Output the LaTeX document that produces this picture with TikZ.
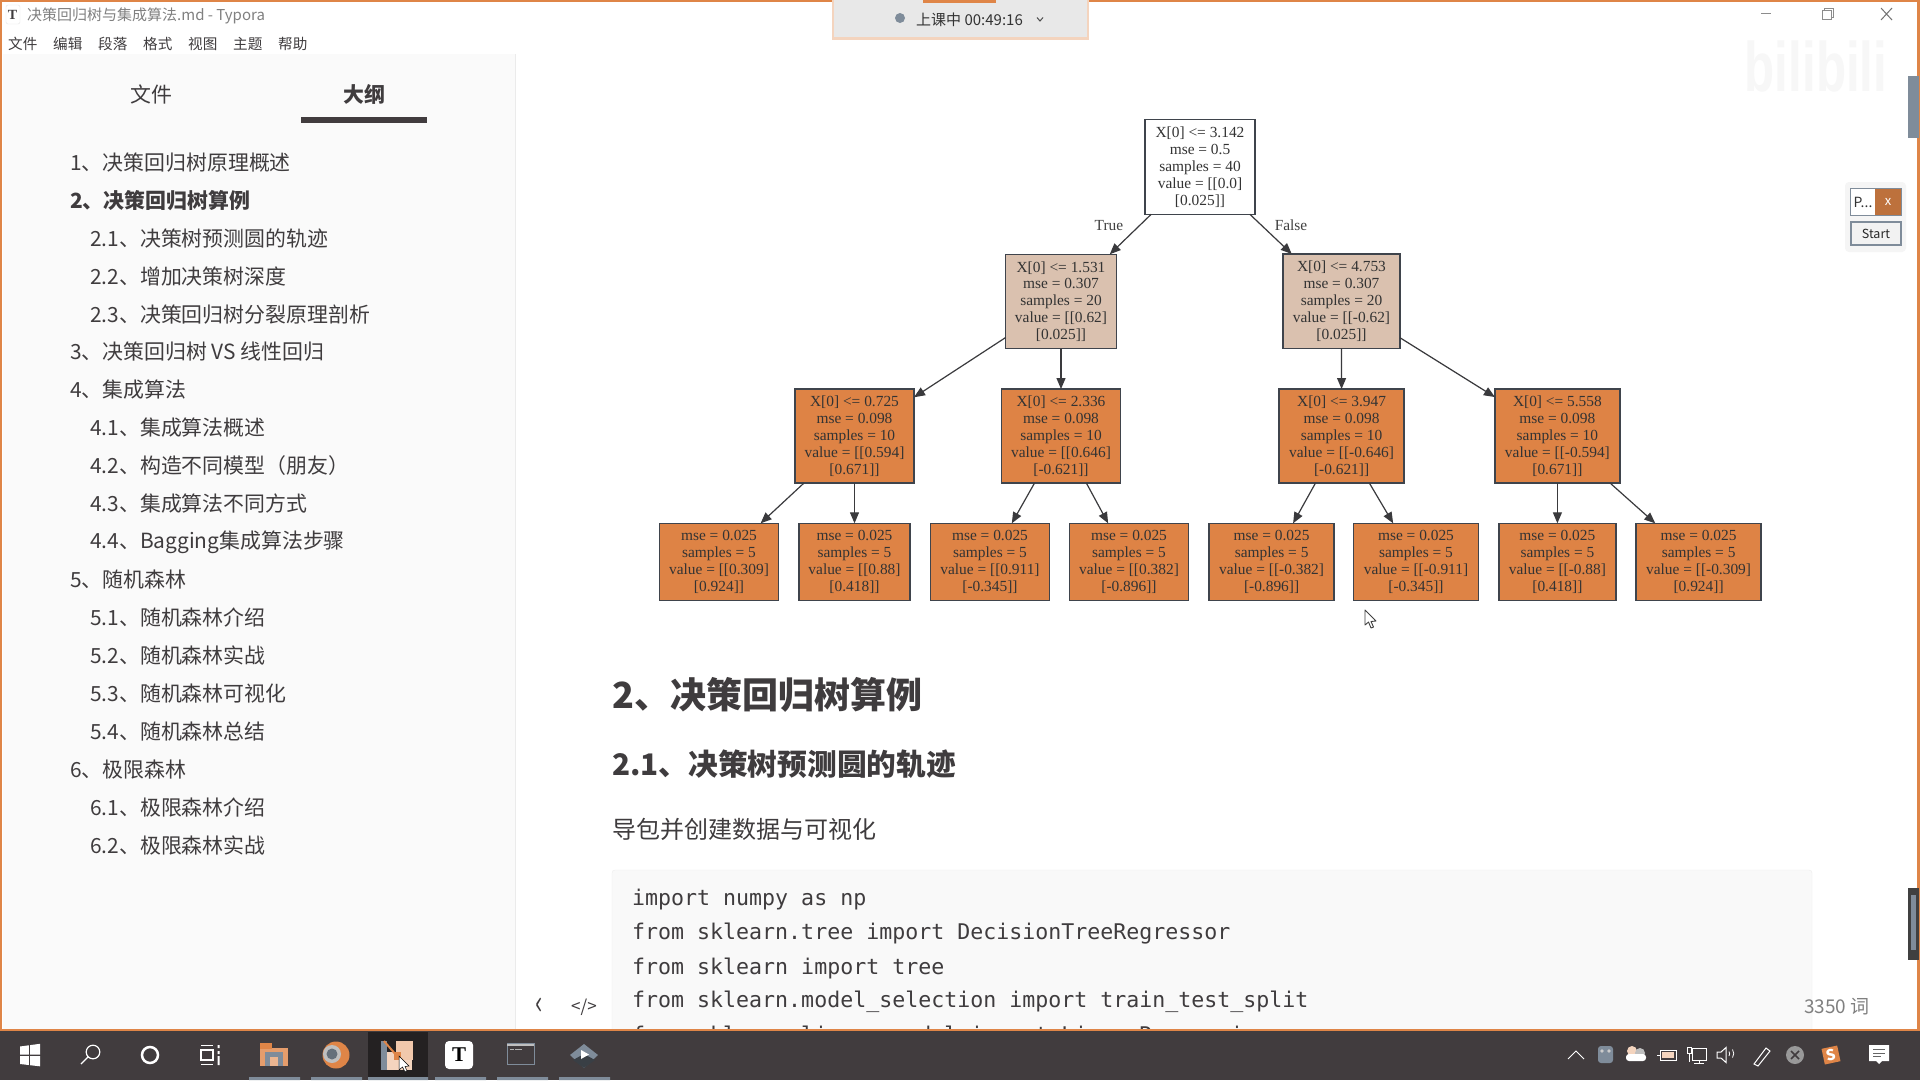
\documentclass[tikz,border=0pt]{standalone}
\usepackage{fontspec}
\usetikzlibrary{arrows.meta,shapes.geometric}
\setmainfont{Noto Sans CJK SC}
\newfontfamily\treefont{Liberation Serif}
\newfontfamily\codefont{DejaVu Sans Mono}
\newfontfamily\bilifont{Liberation Sans}
\definecolor{leaf}{HTML}{DE8345}
\definecolor{midbox}{HTML}{DAC1AF}
\definecolor{boxline}{HTML}{3F444C}
\definecolor{edgecol}{HTML}{3A3A3D}
\definecolor{bar}{HTML}{413C3E}
\definecolor{acc}{HTML}{DF8547}
\definecolor{sidebg}{HTML}{FAFAFA}
\definecolor{ink}{HTML}{3F3C3E}
\definecolor{slate}{HTML}{7F8C9A}
\newcommand{\fs}[1]{\fontsize{#1}{#1}\selectfont}
\tikzset{
 treebox/.style={draw=boxline,line width=1.4pt,inner sep=0pt,outer sep=0pt,align=center,text=black!80,
   font=\treefont\fontsize{15.4}{16.9}\selectfont},
 leafbox/.style={treebox,fill=leaf},
 edgeline/.style={draw=edgecol,line width=1.2pt,-{Triangle[length=11pt,width=9pt]}},
 lab/.style={font=\treefont\fontsize{15.4}{16.9}\selectfont,text=black!75,inner sep=0pt},
 side1/.style={anchor=west,inner sep=0pt,text=ink,font=\fs{20.9}},
 side1b/.style={anchor=west,inner sep=0pt,text=ink,font=\fs{20.9}\bfseries},
 menuitem/.style={anchor=west,inner sep=0pt,text=ink,font=\fs{14.6}},
 codeline/.style={anchor=west,inner sep=0pt,text=ink,font=\codefont\fs{21.6}},
 uline/.style={fill=slate,draw=none},
 icon/.style={draw=white,line width=1.2pt,fill=none},
}
\begin{document}
\begin{tikzpicture}[x=1pt,y=-1pt]
\useasboundingbox (0,0) rectangle (1920,1080);
\fill[white] (0,0) rectangle (1920,1080);
% sidebar
\fill[sidebg] (3,54) rectangle (515,1030);
\draw[black!8,line width=0.8pt] (515,54) -- (515,1030);
% title bar
\fill[white,draw=black!10,rounded corners=2pt] (6,5) rectangle (20,24);
\node[inner sep=0pt,font=\treefont\bfseries\fs{14},text=ink] (ticon) at (12.5,15) {T};
\node[anchor=west,inner sep=0pt,text=black!50,font=\fs{15}] (title) at (27,16) {决策回归树与集成算法.md - Typora};
\node[menuitem] (m1) at (8,43.5) {文件};
\node[menuitem] (m2) at (53,43.5) {编辑};
\node[menuitem] (m3) at (98,43.5) {段落};
\node[menuitem] (m4) at (143,43.5) {格式};
\node[menuitem] (m5) at (188,43.5) {视图};
\node[menuitem] (m6) at (233,43.5) {主题};
\node[menuitem] (m7) at (278,43.5) {帮助};
% tabs
\node[inner sep=0pt,text=ink,font=\fs{20.9}] (tabfile) at (151,94.5) {文件};
\node[inner sep=0pt,text=ink,font=\fs{20.9}\bfseries] (tabout) at (364,94.5) {大纲};
\fill[bar] (301,117) rectangle (427,123);
% outline
\node[side1]  (s01) at (70,162.2) {1、决策回归树原理概述};
\node[side1b] (s02) at (70,200.2) {2、决策回归树算例};
\node[side1]  (s03) at (90,238.2) {2.1、决策树预测圆的轨迹};
\node[side1]  (s04) at (90,276.1) {2.2、增加决策树深度};
\node[side1]  (s05) at (90,314.1) {2.3、决策回归树分裂原理剖析};
\node[side1]  (s06) at (70,352) {3、决策回归树 VS 线性回归};
\node[side1]  (s07) at (70,390) {4、集成算法};
\node[side1]  (s08) at (90,428) {4.1、集成算法概述};
\node[side1]  (s09) at (90,465.9) {4.2、构造不同模型（朋友）};
\node[side1]  (s10) at (90,503.9) {4.3、集成算法不同方式};
\node[side1]  (s11) at (90,541.8) {4.4、Bagging集成算法步骤};
\node[side1]  (s12) at (70,579.8) {5、随机森林};
\node[side1]  (s13) at (90,617.8) {5.1、随机森林介绍};
\node[side1]  (s14) at (90,655.7) {5.2、随机森林实战};
\node[side1]  (s15) at (90,693.7) {5.3、随机森林可视化};
\node[side1]  (s16) at (90,731.6) {5.4、随机森林总结};
\node[side1]  (s17) at (70,769.6) {6、极限森林};
\node[side1]  (s18) at (90,807.6) {6.1、极限森林介绍};
\node[side1]  (s19) at (90,845.6) {6.2、极限森林实战};
\node[inner sep=0pt,text=ink,font=\fs{28}] (prev) at (539,1006) {\scalebox{.9}[1.2]{‹}};
\node[inner sep=0pt,text=ink,font=\fs{17}] (src) at (584,1007) {</>};
% tree
\node[treebox,fill=white,minimum width=110pt,minimum height=94.5pt] (root) at (1200,167) {X[0] <= 3.142\\mse = 0.5\\samples = 40\\value = [[0.0]\\{[0.025]]}};
\node[treebox,fill=midbox,minimum width=110.6pt,minimum height=94.4pt] (a) at (1061,301.5) {X[0] <= 1.531\\mse = 0.307\\samples = 20\\value = [[0.62]\\{[0.025]]}};
\node[treebox,fill=midbox,minimum width=117pt,minimum height=94.4pt] (b) at (1341.5,301.2) {X[0] <= 4.753\\mse = 0.307\\samples = 20\\value = [[-0.62]\\{[0.025]]}};
\node[leafbox,minimum width=119pt,minimum height=94pt] (c) at (854.5,436) {X[0] <= 0.725\\mse = 0.098\\samples = 10\\value = [[0.594]\\{[0.671]]}};
\node[leafbox,minimum width=119pt,minimum height=94pt] (d) at (1061,436) {X[0] <= 2.336\\mse = 0.098\\samples = 10\\value = [[0.646]\\{[-0.621]]}};
\node[leafbox,minimum width=125pt,minimum height=94pt] (e) at (1341.6,436) {X[0] <= 3.947\\mse = 0.098\\samples = 10\\value = [[-0.646]\\{[-0.621]]}};
\node[leafbox,minimum width=125pt,minimum height=94pt] (f) at (1557.4,436) {X[0] <= 5.558\\mse = 0.098\\samples = 10\\value = [[-0.594]\\{[0.671]]}};
\node[leafbox,minimum width=119pt,minimum height=77.4pt] (l1) at (719,562) {mse = 0.025\\samples = 5\\value = [[0.309]\\{[0.924]]}};
\node[leafbox,minimum width=111pt,minimum height=77.4pt] (l2) at (854.5,562) {mse = 0.025\\samples = 5\\value = [[0.88]\\{[0.418]]}};
\node[leafbox,minimum width=119pt,minimum height=77.4pt] (l3) at (990,562) {mse = 0.025\\samples = 5\\value = [[0.911]\\{[-0.345]]}};
\node[leafbox,minimum width=119pt,minimum height=77.4pt] (l4) at (1129,562) {mse = 0.025\\samples = 5\\value = [[0.382]\\{[-0.896]]}};
\node[leafbox,minimum width=125pt,minimum height=77.4pt] (l5) at (1271.6,562) {mse = 0.025\\samples = 5\\value = [[-0.382]\\{[-0.896]]}};
\node[leafbox,minimum width=125pt,minimum height=77.4pt] (l6) at (1416,562) {mse = 0.025\\samples = 5\\value = [[-0.911]\\{[-0.345]]}};
\node[leafbox,minimum width=117pt,minimum height=77.4pt] (l7) at (1557.4,562) {mse = 0.025\\samples = 5\\value = [[-0.88]\\{[0.418]]}};
\node[leafbox,minimum width=125pt,minimum height=77.4pt] (l8) at (1698.6,562) {mse = 0.025\\samples = 5\\value = [[-0.309]\\{[0.924]]}};
\foreach \p/\q in {root/a,root/b,a/c,a/d,b/e,b/f,c/l1,c/l2,d/l3,d/l4,e/l5,e/l6,f/l7,f/l8}
  \draw[edgeline] (\p) -- (\q);
\node[lab] (ltrue) at (1109,225.5) {True};
\node[lab] (lfalse) at (1291,225.5) {False};
% article
\node[anchor=west,inner sep=0pt,text=ink,font=\fs{36}\bfseries] (h2) at (612,694.5) {2、决策回归树算例};
\node[anchor=west,inner sep=0pt,text=ink,font=\fs{29.7}\bfseries] (h3) at (612,764.5) {2.1、决策树预测圆的轨迹};
\node[anchor=west,inner sep=0pt,text=ink,font=\fs{24}] (para) at (612,829.5) {导包并创建数据与可视化};
\fill[black!2.5,draw=black!7,rounded corners=3pt] (612,870) rectangle (1812,1060);
\node[codeline] (c1) at (632,900) {import numpy as np};
\node[codeline] (c2) at (632,934) {from sklearn.tree import DecisionTreeRegressor};
\node[codeline] (c3) at (632,968) {from sklearn import tree};
\node[codeline] (c4) at (632,1002) {from sklearn.model\_selection import train\_test\_split};
\node[codeline] (c5) at (632,1036.5) {from sklearn.linear\_model import LinearRegression};
\fill[white] (1812.8,990) rectangle (1916,1030);
\node[anchor=west,inner sep=0pt,text=black!50,font=\fs{19}] (wc) at (1804,1007) {3350 词};
% cursor
\draw[black!75,fill=white,line width=0.9pt,line join=round] (1365,610) -- (1365,625) -- (1368.5,622) -- (1371,628) -- (1373.5,627) -- (1371,621.5) -- (1376,621) -- cycle;
% taskbar
\fill[bar] (0,1031) rectangle (1920,1080);
\fill[acc] (0,1029) rectangle (1920,1031);
\fill[acc] (0,0) rectangle (1920,1.8);
\fill[acc] (0,0) rectangle (1.8,1031);
\fill[acc] (1917,0) rectangle (1920,1031);
% recording widget
\fill[black!9!white] (832,0) rectangle (1089,37);
\fill[acc!35!white] (832,37) rectangle (1089,39.5);
\fill[acc!35!white] (832,0) rectangle (834,39);
\fill[acc!35!white] (1087,0) rectangle (1089,39);
\fill[acc] (923,0) rectangle (996,2.5);
\fill[slate] (900,18) circle (5);
\node[anchor=west,inner sep=0pt,text=black!80,font=\fs{15}] (rec) at (916,20) {上课中 00:49:16};
\draw[black!70,line width=1pt] (1037,17.5) -- (1040,21) -- (1043,17.5);
% window controls
\draw[black!45,line width=1pt] (1761,13.5) -- (1771,13.5);
\draw[black!45,line width=1pt] (1822,10) rectangle (1831,19) (1824,10) -- (1824,8) -- (1833,8) -- (1833,17) -- (1831,17);
\draw[black!55,line width=1pt] (1881,8) -- (1892,20) (1892,8) -- (1881,20);
% watermark
\node[inner sep=0pt,text=black!3,font=\bilifont\bfseries\fs{56}] (wm) at (1816,66) {\scalebox{.88}[1.25]{bilibili}};
% scrollbar
\fill[slate] (1908,76) rectangle (1919,138);
\fill[black!75] (1908,888) rectangle (1919,960);
\fill[slate] (1911,895) rectangle (1916,950);
% PPT widget
\fill[black!4,rounded corners=4pt] (1845,182) rectangle (1906,252);
\fill[white,draw=slate,line width=0.6pt] (1850,188) rectangle (1901,215);
\node[inner sep=0pt,text=black!80,font=\fs{14}] (pp) at (1863,202.5) {P...};
\fill[acc!85!black] (1875,189) rectangle (1901,215);
\node[inner sep=0pt,text=white,font=\fs{13}] (px) at (1888,202) {x};
\node[draw=slate,line width=1.6pt,fill=black!5,minimum width=50pt,minimum height=23pt,inner sep=0pt,text=black!85,font=\fs{12.5}] (start) at (1876,233.5) {Start};
% start-bar icons
\fill[white] (20,1046.5) -- (28.8,1045.3) -- (28.8,1054.5) -- (20,1054.5) -- cycle;
\fill[white] (30.2,1045.1) -- (40,1043.8) -- (40,1054.5) -- (30.2,1054.5) -- cycle;
\fill[white] (20,1056) -- (28.8,1056) -- (28.8,1065) -- (20,1064) -- cycle;
\fill[white] (30.2,1056) -- (40,1056) -- (40,1066.3) -- (30.2,1065.2) -- cycle;
\draw[icon] (93,1052) circle (6.8) (88,1057) -- (81,1064);
\draw[white,line width=2.5pt] (150,1055) circle (8);
\draw[icon] (201,1045.5) -- (213,1045.5) (201,1050) rectangle (213,1060) (201,1064.5) -- (213,1064.5);
\fill[white] (217.5,1045) rectangle (219.5,1048) (217.5,1051) rectangle (219.5,1054) (217.5,1056) rectangle (219.5,1065);
% folder
\fill[acc!80!white] (260,1048) rectangle (288,1066);
\fill[acc] (260,1043) rectangle (272,1049);
\fill[slate] (265,1052) rectangle (283,1066);
\fill[acc!60!white] (270,1057) rectangle (278,1066);
% browser
\fill[acc] (336,1055) circle (13.5);
\fill[black!25] (332,1054) circle (9);
\fill[slate!80!black] (332,1054) circle (5.5);
% active app
\fill[black!45!bar] (368,1032) rectangle (428,1077);
\fill[acc!35!white] (381,1052) rectangle (412,1070);
\fill[slate] (381,1041) rectangle (387,1070);
\fill[acc!45!white] (396,1041) rectangle (413,1060);
\draw[acc,line width=2pt] (384,1041) -- (397,1056);
\fill[acc] (394,1052) rectangle (401,1060);
\draw[black,fill=white,line width=0.5pt] (399,1056) -- (399,1070) -- (402.5,1067) -- (405,1072) -- (407,1071) -- (405,1066.5) -- (409,1066) -- cycle;
% T icon
\node[fill=white,rounded corners=4pt,minimum width=28pt,minimum height=28pt,inner sep=0pt,text=black,font=\treefont\bfseries\fs{21}] (tapp) at (459,1055) {T};
% terminal
\draw[slate,line width=1pt] (507,1043.5) rectangle (534,1064.5);
\fill[black!25] (507,1043.5) rectangle (534,1046);
\draw[black!30,line width=0.8pt] (510,1049) -- (514,1049) (515,1049) -- (522,1049);
% diamond app
\fill[slate] (584,1044) -- (598,1055) -- (584,1068) -- (570,1055) -- cycle;
\fill[black!55!slate] (573,1060) -- (584,1068) -- (595,1060) -- (584,1054) -- cycle;
\fill[white] (581,1050) -- (589,1054.5) -- (581,1059) -- cycle;
% underlines
\fill[uline] (249,1077) rectangle (300,1080) (311,1077) rectangle (362,1080) (368,1077) rectangle (428,1080) (435,1077) rectangle (486,1080) (497,1077) rectangle (548,1080) (559,1077) rectangle (610,1080);
% tray
\draw[icon,line width=1pt] (1568,1059) -- (1576,1051) -- (1584,1059);
\fill[slate,rounded corners=3pt] (1598,1046) rectangle (1613,1063);
\fill[black!20] (1602,1051) circle (1.8) (1609,1051) circle (1.8);
\fill[acc!35!white] (1632,1051) circle (5);
\fill[black!25] (1640,1053) circle (5);
\fill[white,rounded corners=3pt] (1626,1054) rectangle (1646,1061);
\draw[white,line width=1pt] (1660,1050) rectangle (1676,1060);
\fill[acc!35!white] (1662,1052) rectangle (1674,1058);
\draw[white,line width=1pt] (1657,1055) -- (1660,1055);
\draw[white,line width=1pt] (1692,1048) rectangle (1706,1060) (1699,1060) -- (1699,1063) (1694,1063) -- (1704,1063);
\draw[white,line width=1pt] (1687,1047) rectangle (1691,1053) (1689,1053) -- (1689,1062);
\draw[white,line width=1pt] (1717,1052) -- (1721,1052) -- (1726,1047.5) -- (1726,1062.5) -- (1721,1058) -- (1717,1058) -- cycle;
\draw[white,line width=0.8pt] (1729,1051.5) arc (-30:30:4.5) (1732.5,1049.5) arc (-35:35:7);
\draw[white,line width=1pt] (1754,1064) -- (1766,1048) -- (1770,1051) -- (1758,1066) -- cycle;
\fill[black!40] (1795,1055) circle (9);
\draw[bar,line width=1.5pt] (1791,1051) -- (1799,1059) (1799,1051) -- (1791,1059);
\node[fill=acc,rotate=12,minimum size=16pt,inner sep=0pt,text=white,font=\bfseries\fs{15}] (sogou) at (1831,1055) {S};
\fill[white] (1869,1045) rectangle (1889,1061) (1876,1061) -- (1879,1064) -- (1882,1061) -- cycle;
\draw[black!60,line width=1pt] (1873,1049.5) -- (1885,1049.5) (1873,1053) -- (1885,1053) (1873,1056.5) -- (1881,1056.5);
\end{tikzpicture}
\end{document}
